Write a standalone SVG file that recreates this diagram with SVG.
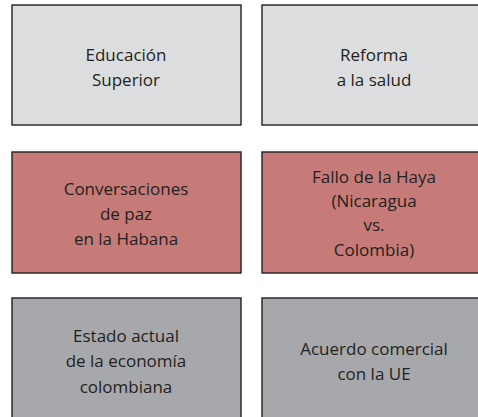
<svg xmlns="http://www.w3.org/2000/svg" width="478" height="417" viewBox="0 0 478 417">
<style>
.box{stroke:#231f20;stroke-width:1.4}
.g1{fill:#dcdddf}
.g2{fill:#c77b79}
.g3{fill:#a7a8ab}
text{font-family:"Open Sans","Noto Sans",sans-serif;font-size:17px;fill:#231f20;text-anchor:middle}
</style>
<rect width="478" height="417" fill="#ffffff"/>
<g id="n1"><rect class="box g1" x="12" y="5" width="229" height="120"/>
<text x="126" y="61">Educación</text><text x="126" y="86">Superior</text></g>
<g id="n2"><rect class="box g1" x="262" y="5" width="225" height="120"/>
<text x="374" y="61">Reforma</text><text x="374" y="86">a la salud</text></g>
<g id="n3"><rect class="box g2" x="12" y="152" width="229" height="121"/>
<text x="126" y="195">Conversaciones</text><text x="126" y="220">de paz</text><text x="126" y="245">en la Habana</text></g>
<g id="n4"><rect class="box g2" x="262" y="152" width="225" height="121"/>
<text x="374" y="183">Fallo de la Haya</text><text x="374" y="207">(Nicaragua</text><text x="374" y="231">vs.</text><text x="374" y="256">Colombia)</text></g>
<g id="n5"><rect class="box g3" x="12" y="298" width="229" height="130"/>
<text x="126" y="342">Estado actual</text><text x="126" y="367">de la economía</text><text x="126" y="393">colombiana</text></g>
<g id="n6"><rect class="box g3" x="262" y="298" width="225" height="130"/>
<text x="374" y="355">Acuerdo comercial</text><text x="374" y="380">con la UE</text></g>
<g id="connectors"></g>
</svg>
